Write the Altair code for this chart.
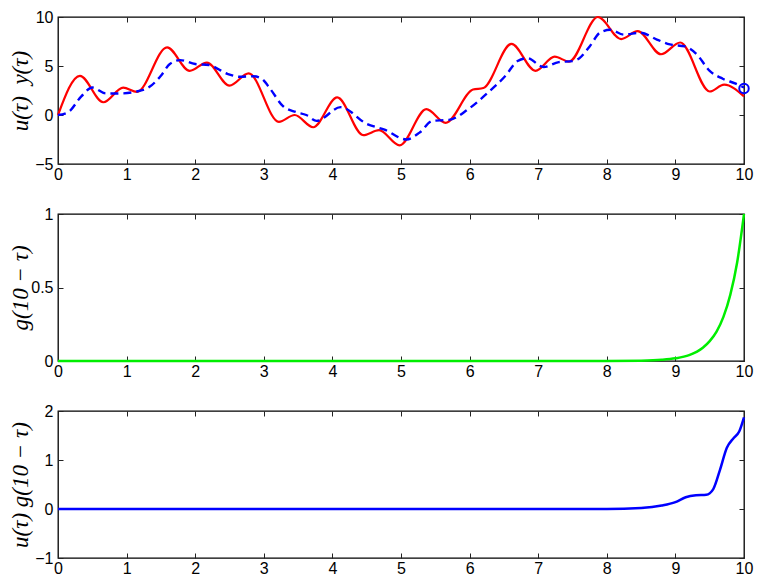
import altair as alt
import pandas as pd

# ---- data ----
u_t = [0.0, 0.32, 0.66, 0.95, 1.15, 1.59, 1.92, 2.17, 2.5, 2.78, 3.22, 3.45, 3.72, 4.07, 4.45,
       4.68, 4.98, 5.37, 5.65, 6.05, 6.2, 6.61, 6.96, 7.24, 7.45, 7.87, 8.21, 8.45, 8.79, 9.07,
       9.5, 9.71, 10.0]
u_v = [0.0, 4.0, 1.3, 2.8, 2.35, 6.9, 4.5, 5.35, 3.0, 4.25, -0.7, 0.0, -1.25, 1.8, -2.05,
       -1.55, -3.1, 0.6, -0.8, 2.6, 2.75, 7.25, 4.5, 5.95, 5.45, 10.0, 7.75, 8.55, 6.2, 7.4,
       2.4, 3.1, 1.9]

y_t = [0.0, 0.15, 0.34, 0.5, 0.7, 0.9, 1.15, 1.34, 1.5, 1.63, 1.78, 2.0, 2.2, 2.47, 2.65,
       2.85, 2.97, 3.1, 3.28, 3.47, 3.62, 3.77, 4.12, 4.5, 4.76, 5.08, 5.27, 5.46, 5.7, 5.98,
       6.27, 6.51, 6.7, 6.84, 7.08, 7.3, 7.5, 7.6, 7.75, 7.9, 8.05, 8.25, 8.49, 8.73, 8.92,
       9.14, 9.31, 9.5, 9.69, 9.88, 10.0]
y_v = [0.0, 0.3, 1.9, 2.8, 2.2, 2.2, 2.4, 2.9, 4.0, 5.2, 5.6, 5.2, 5.1, 4.2, 3.9,
       3.95, 3.7, 2.6, 0.9, 0.3, 0.0, -0.6, 0.8, -0.9, -1.5, -2.5, -1.8, -0.6, -0.5, 0.6,
       2.3, 3.9, 5.5, 5.8, 4.9, 5.4, 5.5, 5.8, 7.0, 8.4, 8.7, 8.2, 8.4, 7.7, 7.2,
       7.0, 6.2, 4.5, 3.7, 3.2, 2.8]

end_t = [10.0]
end_v = [2.7]

g_t = [0.0, 8.0, 8.5, 8.8, 9.0, 9.2, 9.4, 9.5, 9.6, 9.7, 9.8, 9.9, 10.0]
g_v = [0.0, 0.0004, 0.0025, 0.008, 0.018, 0.04, 0.09, 0.135, 0.2, 0.3, 0.45, 0.67, 1.0]

p_t = [0.0, 8.0, 8.5, 8.8, 9.0, 9.15, 9.3, 9.45, 9.55, 9.65, 9.75, 9.85, 9.93, 10.0]
p_v = [0.0, 0.0, 0.02, 0.07, 0.14, 0.24, 0.28, 0.29, 0.4, 0.8, 1.25, 1.45, 1.58, 1.87]

x_ticks = list(range(11))

df_u = pd.DataFrame({"t": u_t, "v": u_v})
df_y = pd.DataFrame({"t": y_t, "v": y_v})
df_end = pd.DataFrame({"t": end_t, "v": end_v})
df_g = pd.DataFrame({"t": g_t, "v": g_v})
df_p = pd.DataFrame({"t": p_t, "v": p_v})

W, H = 686, 147
xscale = alt.Scale(domain=[0, 10], nice=False, zero=False)

LABEL_FONT = "Liberation Sans"
TITLE_FONT = "Liberation Serif"
LFS = 16


def main_axes(yticks, title):
    xa = alt.Axis(orient="bottom", values=x_ticks, offset=-5, tickSize=5, domain=False,
                  grid=False, labelPadding=2, title=None, format="~r", labelFlush=False,
                  labelFont=LABEL_FONT, labelFontSize=LFS, labelColor="black",
                  tickColor="#222222")
    ya = alt.Axis(orient="left", values=yticks, offset=-5, tickSize=5, domain=False,
                  grid=False, labelPadding=5, title=title, format="~r", labelFlush=False,
                  labelFont=LABEL_FONT, labelFontSize=LFS, labelColor="black",
                  tickColor="#222222",
                  titleFont=TITLE_FONT, titleFontSize=23, titleFontStyle="italic",
                  titleFontWeight="normal", titleColor="black",
                  titleX=-31, titleY=H / 2, titleAngle=270, titleAlign="center",
                  titleBaseline="bottom")
    return xa, ya


def tick_axes(yticks):
    xa = alt.Axis(orient="top", values=x_ticks, offset=-5, tickSize=5, domain=False,
                  grid=False, labels=False, title=None, minExtent=0, maxExtent=0,
                  tickColor="#222222")
    ya = alt.Axis(orient="right", values=yticks, offset=-5, tickSize=5, domain=False,
                  grid=False, labels=False, title=None, minExtent=0, maxExtent=0,
                  tickColor="#222222")
    return xa, ya


def panel(first_df, first_style, extra_layers, ydom, yticks, title):
    yscale = alt.Scale(domain=ydom, nice=False, zero=False)
    xa, ya = main_axes(yticks, title)
    txa, tya = tick_axes(yticks)
    first = alt.Chart(first_df).mark_line(interpolate="monotone", **first_style).encode(
        x=alt.X("t:Q", scale=xscale, axis=xa),
        y=alt.Y("v:Q", scale=yscale, axis=ya),
    )
    layers = [first]
    for df, kind, style in extra_layers:
        if kind == "line":
            m = alt.Chart(df).mark_line(interpolate="monotone", **style)
        else:
            m = alt.Chart(df).mark_point(**style)
        layers.append(m.encode(
            x=alt.X("t:Q", scale=xscale, axis=None),
            y=alt.Y("v:Q", scale=yscale, axis=None),
        ))
    ticks = alt.Chart(first_df).mark_line(opacity=0).encode(
        x=alt.X("t:Q", scale=xscale, axis=txa),
        y=alt.Y("v:Q", scale=yscale, axis=tya),
    )
    layers.append(ticks)
    return alt.layer(*layers).resolve_axis(x="independent", y="independent").properties(
        width=W, height=H,
        view=alt.ViewBackground(stroke="#000000", strokeWidth=1.3, strokeOpacity=1))


top = panel(
    df_u, {"color": "#ff0000", "strokeWidth": 2.2},
    [
        (df_y, "line", {"color": "#0000ff", "strokeWidth": 2.4, "strokeDash": [8, 5]}),
        (df_end, "point", {"color": "#0000ff", "shape": "circle", "size": 90,
                           "strokeWidth": 2, "filled": False, "opacity": 1}),
    ],
    [-5, 10], [-5, 0, 5, 10], "u(τ)\u00a0\u00a0y(τ)")

mid = panel(df_g, {"color": "#00ee00", "strokeWidth": 2.5}, [], [0, 1], [0, 0.5, 1],
            "g(10 − τ)")

bot = panel(df_p, {"color": "#0000ff", "strokeWidth": 2.5}, [], [-1, 2], [-1, 0, 1, 2],
            "u(τ) g(10 − τ)")

chart = alt.vconcat(top, mid, bot, spacing=22).properties(
    padding={"left": 0, "top": 0, "right": 0, "bottom": 0}
).configure_view(
    stroke="#000000", strokeWidth=1.3
).configure(background="white")

chart.save("out.html", embed_options={"renderer": "svg", "actions": False})
